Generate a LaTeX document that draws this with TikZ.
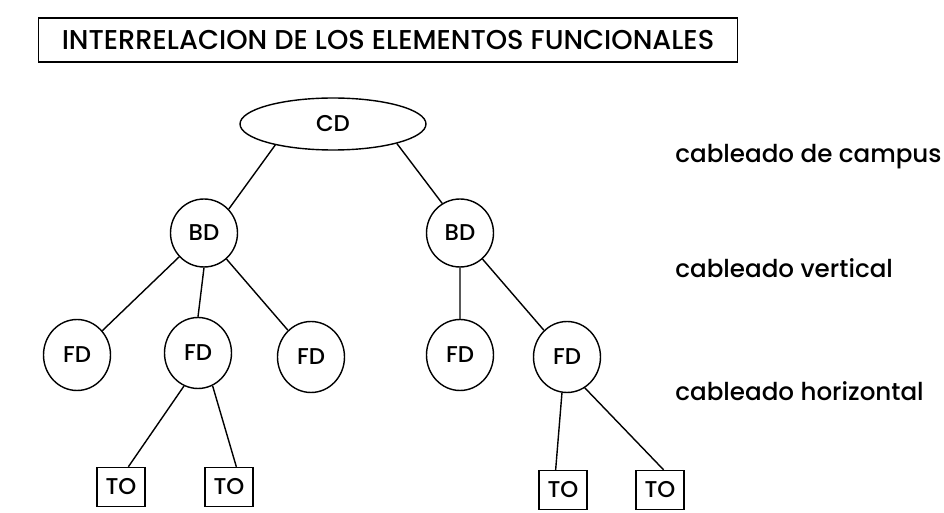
\documentclass[tikz,border=0pt]{standalone}
\usepackage{fontspec}
\setmainfont{Poppins}[UprightFont=* Medium]
\usepackage{tikz}
\usetikzlibrary{shapes.geometric}
\newcommand{\nodelw}{.8pt}

\begin{document}
\begin{tikzpicture}[x=0.02cm,y=-0.02cm,
    distr/.style={draw, ellipse, line width=\nodelw, inner sep=0pt, minimum width=1.34cm, minimum height=1.42cm, font=\fontsize{13}{15}\selectfont},
    outlet/.style={draw, rectangle, line width=\nodelw, inner sep=0pt, minimum width=0.96cm, minimum height=0.78cm, font=\fontsize{13}{15}\selectfont},
    level/.style={anchor=base west, inner sep=0pt, font=\fontsize{14}{16}\selectfont}]

\useasboundingbox (0,0) rectangle (944,513);

\node (title) at (388,40) [draw, line width=\nodelw, minimum width=13.98cm, minimum height=0.88cm, font=\fontsize{15.5}{18}\selectfont] {INTERRELACION DE LOS ELEMENTOS FUNCIONALES};

\node (cd) at (333,124) [distr, minimum width=3.72cm, minimum height=1.04cm] {CD};
\node (bd1) at (204,233) [distr, minimum height=1.36cm] {BD};
\node (bd2) at (460,233) [distr, minimum height=1.36cm] {BD};
\node (fd1) at (77,355) [distr] {FD};
\node (fd2) at (198,353) [distr] {FD};
\node (fd3) at (311,357) [distr] {FD};
\node (fd4) at (460,355) [distr] {FD};
\node (fd5) at (567,357) [distr] {FD};
\node (to1) at (121,487) [outlet] {TO};
\node (to2) at (229,487) [outlet] {TO};
\node (to3) at (563,490) [outlet] {TO};
\node (to4) at (660,490) [outlet] {TO};

\draw[line width=\nodelw]
(cd.-160) to (bd1.44)
(cd.-17) to (bd2.121)
(bd1) to (fd1)
(bd1.south) to (fd2.north)
(bd1) to (fd3)
(bd2) to (fd4)
(bd2) to (fd5)
(fd2.-113) to (to1.70)
(fd2.-66) to (to2.70)
(fd5.-98) to (to3.110)
(fd5.-60) to (to4.80);

\node (campus) at (675,163) [level] {cableado de campus};
\node (vert) at (675,278) [level] {cableado vertical};
\node (horiz) at (675,400) [level] {cableado horizontal};

\end{tikzpicture}
\end{document}
